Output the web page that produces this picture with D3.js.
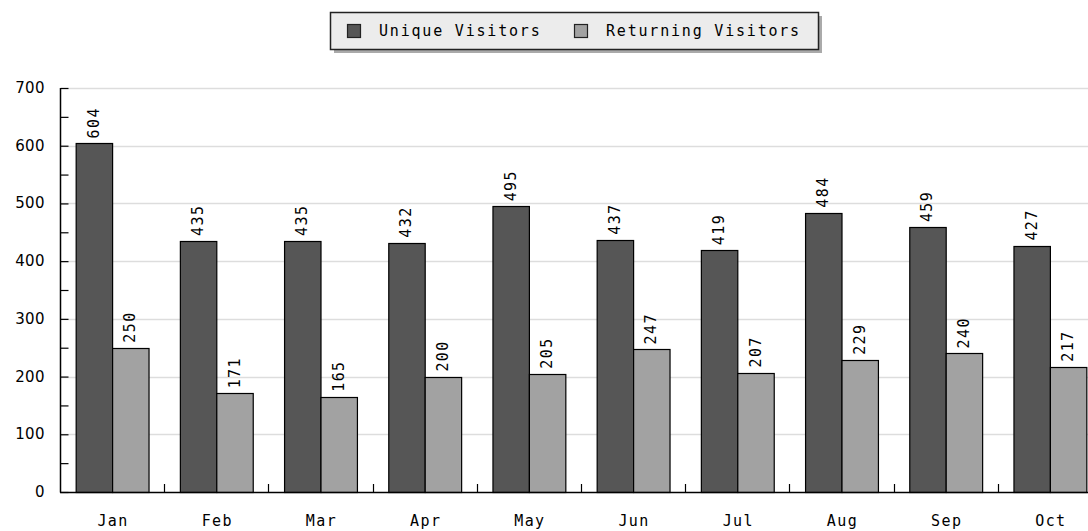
<!DOCTYPE html>
<meta charset="utf-8">
<style>
body{
	margin:0;
	background:#fff;
}
text{
	font-family:"DejaVu Sans Mono", monospace;
	font-size:15px;
	letter-spacing:1.4px;
	fill:#000;
}
.legend text{
	letter-spacing:1.8px;
}
.ylab text{
	font-family:"DejaVu Sans", sans-serif;
	font-size:15px;
	letter-spacing:0.4px;
}
</style>
<script src="https://cdn.jsdelivr.net/npm/d3@7"></script>
<svg id="chart" width="1088" height="531"></svg>

<script>

var months = ["Jan","Feb","Mar","Apr","May","Jun","Jul","Aug","Sep","Oct"]
var unique = [604,435,435,432,495,437,419,484,459,427]
var returning = [250,171,165,200,205,247,207,229,240,217]
var seriesNames = ["Unique Visitors","Returning Visitors"]
var seriesColors = ["#565656","#a2a2a2"]
var yTicks = [0,100,200,300,400,500,600,700]

var svg = d3.select("#chart")

var plotLeft = 60, plotTop = 88, plotBottom = 492
var band = 104.2

//x goes past the right edge, the last group gets clipped like the original
var x = d3.scaleBand().domain(months).range([plotLeft, plotLeft + band*months.length]).paddingInner(0).paddingOuter(0)
var inner = d3.scaleBand().domain([0,1]).range([0, band]).paddingInner(0).paddingOuter(0.43)
var y = d3.scaleLinear().domain([0,700]).range([plotBottom, plotTop])

//grid
svg.append("g").selectAll("line").data(yTicks.slice(1)).enter().append("line")
	.attr("x1", plotLeft+1).attr("x2", 1088)
	.attr("y1", function(d){return Math.round(y(d))+0.5})
	.attr("y2", function(d){return Math.round(y(d))+0.5})
	.attr("stroke","#dddddd").attr("stroke-width",1.5)

//bars
var groups = svg.append("g").selectAll("g").data(months).enter().append("g")
	.attr("transform", function(d){return "translate("+x(d)+",0)"})

groups.each(function(m,i){
	var g = d3.select(this)
	var vals = [unique[i], returning[i]]
	vals.forEach(function(v,k){
		g.append("rect")
			.attr("x", inner(k)+0.5)
			.attr("y", Math.round(y(v))+0.5)
			.attr("width", inner.bandwidth())
			.attr("height", plotBottom - Math.round(y(v)))
			.attr("fill", seriesColors[k])
			.attr("stroke","#000").attr("stroke-width",1.2)
		var cx = inner(k) + inner.bandwidth()/2 + 5
		g.append("text")
			.attr("transform","translate("+cx+","+(y(v)-5)+") rotate(-90)")
			.attr("text-anchor","start")
			.text(v)
	})
})

//y axis
var yAxis = d3.axisRight(y).tickValues(d3.range(0,701,50)).tickSize(8).tickFormat("")
var ya = svg.append("g").attr("transform","translate("+(plotLeft+0.5)+",0)").call(yAxis)
ya.select(".domain").attr("stroke","#000").attr("stroke-width",1.5).attr("d","M0,"+plotTop+"V"+(plotBottom+0.5))
ya.selectAll(".tick line").attr("stroke","#000").attr("stroke-width",1.2)

svg.append("g").attr("class","ylab").selectAll("text").data(yTicks).enter().append("text")
	.attr("x",45).attr("y",function(d){return y(d)+5})
	.attr("text-anchor","end")
	.text(function(d){return d})

//x axis
svg.append("line").attr("x1",plotLeft).attr("x2",1088)
	.attr("y1",plotBottom+0.5).attr("y2",plotBottom+0.5)
	.attr("stroke","#000").attr("stroke-width",1.5)

svg.append("g").selectAll("line").data(months.slice(1)).enter().append("line")
	.attr("x1",function(d){return Math.round(x(d))+0.5})
	.attr("x2",function(d){return Math.round(x(d))+0.5})
	.attr("y1",plotBottom-8).attr("y2",plotBottom)
	.attr("stroke","#000").attr("stroke-width",1.2)

svg.append("g").selectAll("text").data(months).enter().append("text")
	.attr("x",function(d){return x(d)+band/2+1})
	.attr("y",526)
	.attr("text-anchor","middle")
	.text(function(d){return d})

//legend
var lg = svg.append("g").attr("class","legend")
lg.append("rect").attr("x",334).attr("y",16).attr("width",488).attr("height",37).attr("fill","#aaaaaa")
lg.append("rect").attr("x",330.5).attr("y",12.5).attr("width",488).attr("height",37)
	.attr("fill","#ececec").attr("stroke","#222").attr("stroke-width",1.5)

var legX = [347, 574]
seriesNames.forEach(function(n,k){
	lg.append("rect").attr("x",legX[k]+0.5).attr("y",24.5).attr("width",13).attr("height",13)
		.attr("fill",seriesColors[k]).attr("stroke","#222").attr("stroke-width",1.2)
	lg.append("text").attr("x",legX[k]+32).attr("y",36).text(n)
})

</script>
